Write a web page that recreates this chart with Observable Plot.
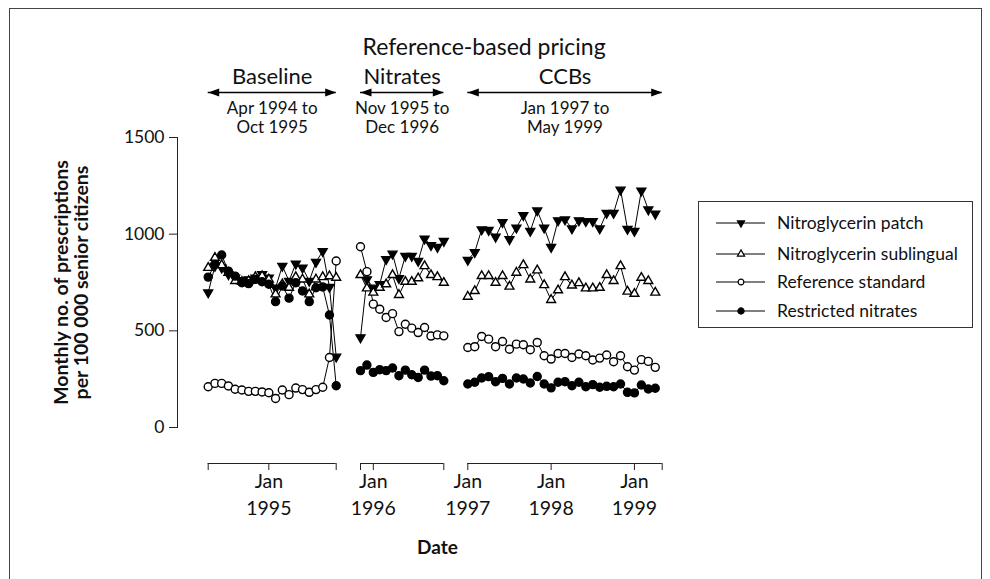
<!DOCTYPE html>
<html><head><meta charset="utf-8">
<script src="https://cdn.jsdelivr.net/npm/d3@7"></script>
<script src="https://cdn.jsdelivr.net/npm/@observablehq/plot@0.6"></script>
<style>
body{margin:0;background:#fff;font-family:Lato,sans-serif}
#wrap{position:relative;width:990px;height:579px;overflow:hidden;background:#fff}
#border{position:absolute;left:9px;top:8px;width:971px;height:640px;border:1px solid #444;pointer-events:none}
</style></head><body><div id="wrap"></div>
<script>
// ---- data ----
const seriesNames = ["Nitroglycerin patch", "Nitroglycerin sublingual", "Reference standard", "Restricted nitrates"];
const periodNames = ["Baseline", "Nitrates", "CCBs"];
const periodRanges = ["Apr 1994 to\nOct 1995", "Nov 1995 to\nDec 1996", "Jan 1997 to\nMay 1999"];
const periodStartSlot = [0, 20, 34];
const periodEndSlot = [19, 33, 62];
const policyLabel = "Reference-based pricing";
const tickSlots = [9, 22, 34, 46, 58];
const tickLabels = ["Jan\n1995", "Jan\n1996", "Jan\n1997", "Jan\n1998", "Jan\n1999"];
const yTicks = [0, 500, 1000, 1500];

const baselinePatch      = [698, 835, 826, 792, 775, 761, 766, 775, 792, 775, 723, 835, 758, 847, 826, 758, 856, 912, 727, 366];
const baselineSublingual = [826, 878, 840, 800, 758, 754, 758, 778, 783, 766, 689, 741, 723, 778, 766, 689, 766, 778, 783, 775];
const baselineReference  = [211, 228, 228, 215, 198, 194, 187, 187, 184, 180, 150, 194, 170, 204, 196, 182, 196, 208, 362, 861];
const baselineRestricted = [778, 844, 892, 809, 783, 749, 744, 766, 754, 741, 651, 732, 669, 749, 706, 651, 723, 727, 582, 216];

const nitratesPatch      = [466, 766, 723, 741, 870, 899, 772, 887, 887, 861, 976, 943, 933, 964];
const nitratesSublingual = [789, 720, 698, 723, 741, 789, 686, 754, 754, 772, 835, 789, 778, 749];
const nitratesReference  = [935, 806, 638, 612, 569, 589, 496, 534, 514, 491, 517, 473, 479, 474];
const nitratesRestricted = [294, 323, 285, 299, 294, 308, 268, 297, 273, 259, 297, 266, 268, 242];

const ccbPatch      = [866, 907, 1024, 1021, 986, 1062, 973, 1033, 1098, 1016, 1122, 1033, 933, 1071, 1076, 1029, 1071, 1067, 1067, 1029, 1110, 1110, 1230, 1027, 1016, 1225, 1127, 1105];
const ccbSublingual = [677, 706, 784, 784, 749, 784, 729, 801, 840, 766, 813, 737, 660, 710, 778, 735, 747, 720, 720, 723, 789, 758, 835, 703, 692, 775, 758, 698];
const ccbReference  = [414, 418, 471, 457, 418, 445, 405, 431, 428, 402, 440, 371, 354, 383, 383, 362, 380, 371, 349, 359, 375, 340, 371, 314, 297, 351, 342, 311];
const ccbRestricted = [225, 234, 256, 263, 237, 254, 225, 256, 251, 230, 264, 225, 205, 234, 237, 216, 234, 211, 222, 208, 213, 211, 225, 182, 179, 220, 199, 203];

// ---- tables ----
const periodSeries = [
  [baselinePatch, baselineSublingual, baselineReference, baselineRestricted],
  [nitratesPatch, nitratesSublingual, nitratesReference, nitratesRestricted],
  [ccbPatch, ccbSublingual, ccbReference, ccbRestricted]
];
const rows = [];
periodSeries.forEach((list, p) => list.forEach((vals, s) => vals.forEach((v, i) => rows.push({
  period: periodNames[p], series: seriesNames[s], slot: periodStartSlot[p] + i, value: v
}))));
const periods = periodNames.map((name, i) => ({
  name, range: periodRanges[i], start: periodStartSlot[i], end: periodEndSlot[i],
  mid: (periodStartSlot[i] + periodEndSlot[i]) / 2
}));
const axisTicks = Array.from(new Set([...periodStartSlot, ...periodEndSlot, ...tickSlots])).sort((a, b) => a - b);
const tickLabelOf = new Map(tickSlots.map((s, i) => [s, tickLabels[i]]));

// ---- symbols ----
const S3 = Math.sqrt(3);
const triUp = {draw(ctx, size) { const y = Math.sqrt(size / (3 * S3)); ctx.moveTo(0, -2 * y); ctx.lineTo(S3 * y, y); ctx.lineTo(-S3 * y, y); ctx.closePath(); }};
const triDown = {draw(ctx, size) { const y = Math.sqrt(size / (3 * S3)); ctx.moveTo(0, 2 * y); ctx.lineTo(-S3 * y, -y); ctx.lineTo(S3 * y, -y); ctx.closePath(); }};
const headLeft = {draw(ctx) { ctx.moveTo(0, 0); ctx.lineTo(11, -4); ctx.lineTo(11, 4); ctx.closePath(); }};
const headRight = {draw(ctx) { ctx.moveTo(0, 0); ctx.lineTo(-11, -4); ctx.lineTo(-11, 4); ctx.closePath(); }};
const seriesStyle = [
  {symbol: triDown, fill: "black", r: 3.3},
  {symbol: triUp, fill: "white", r: 3.3},
  {symbol: "circle", fill: "white", r: 4},
  {symbol: "circle", fill: "black", r: 4}
];

const font = "Lato, 'Open Sans', sans-serif";
const chart = Plot.plot({
  width: 990, height: 579,
  marginLeft: 177, marginRight: 293, marginTop: 137, marginBottom: 152,
  style: {fontFamily: font, background: "transparent", color: "#111", overflow: "visible"},
  x: {type: "linear", domain: [0, 19, 20, 33, 34, 62], range: [207.7, 335.7, 360, 443.3, 467.3, 661.7]},
  y: {domain: [0, 1500]},
  marks: [
    Plot.frame({anchor: "left", stroke: "#222"}),
    Plot.axisY({ticks: yTicks, tickFormat: d => String(d), tickSize: 8, tickPadding: 5, fontSize: 17.5, label: null, stroke: "#222"}),
    Plot.ruleY(periods, {x1: "start", x2: "end", y: () => 0, dy: 36, stroke: "#222"}),
    Plot.axisX({ticks: axisTicks, tickFormat: d => tickLabelOf.get(d) ?? "", tickSize: 7, tickPadding: -2, dy: 36, fontSize: 19.5, lineHeight: 1.38, label: null, stroke: "#222"}),
    Plot.text(["Monthly no. of prescriptions\nper 100 000 senior citizens"], {frameAnchor: "left", text: d => d, rotate: -90, dx: -106, fontWeight: "bold", fontSize: 19.5, lineHeight: 1.05, lineAnchor: "middle", textAnchor: "middle"}),
    Plot.text(["Date"], {frameAnchor: "bottom", text: d => d, dy: 120, fontWeight: "bold", fontSize: 19, lineAnchor: "middle"}),
    // period annotations
    Plot.text([{slot: periodStartSlot[1]}], {x: "slot", text: () => policyLabel, frameAnchor: "top", dy: -90, dx: 2, textAnchor: "start", fontSize: 23, lineAnchor: "middle"}),
    Plot.text(periods, {x: "mid", text: "name", frameAnchor: "top", dy: -61, fontSize: 22, lineAnchor: "middle"}),
    Plot.ruleY(periods, {x1: "start", x2: "end", y: () => 1500, dy: -45, stroke: "black", strokeWidth: 1.3}),
    Plot.dot(periods, {x: "start", y: () => 1500, dy: -45, symbol: headLeft, fill: "black", stroke: null}),
    Plot.dot(periods, {x: "end", y: () => 1500, dy: -45, symbol: headRight, fill: "black", stroke: null}),
    Plot.text(periods, {x: "mid", text: "range", frameAnchor: "top", dy: -37, fontSize: 17, lineHeight: 1.12, lineAnchor: "top"}),
    // data
    Plot.line(rows, {x: "slot", y: "value", z: d => d.period + "|" + d.series, stroke: "black", strokeWidth: 1}),
    ...seriesNames.map((name, s) => Plot.dot(rows.filter(d => d.series === name), {
      x: "slot", y: "value", symbol: seriesStyle[s].symbol, r: seriesStyle[s].r,
      fill: seriesStyle[s].fill, stroke: "black", strokeWidth: 1.4
    }))
  ]
});
const wrap = document.getElementById("wrap");
chart.style.position = "absolute"; chart.style.left = "0px"; chart.style.top = "0px";
wrap.appendChild(chart);

// ---- legend ----
const legend = d3.select(wrap).append("svg")
  .attr("width", 276).attr("height", 128)
  .style("position", "absolute").style("left", "698px").style("top", "201px");
legend.append("rect").attr("x", 0.5).attr("y", 0.5).attr("width", 274).attr("height", 126)
  .attr("fill", "white").attr("stroke", "#333");
const rowY = [22, 53, 81, 110];
const legendSym = [
  {type: triDown, size: 22, fill: "black"},
  {type: triUp, size: 22, fill: "white"},
  {type: d3.symbolCircle, size: 26, fill: "white"},
  {type: d3.symbolCircle, size: 30, fill: "black"}
];
seriesNames.forEach((name, i) => {
  const g = legend.append("g").attr("transform", `translate(0,${rowY[i]})`);
  g.append("line").attr("x1", 18).attr("x2", 67).attr("stroke", "black").attr("stroke-width", 1);
  g.append("path").attr("transform", "translate(43,0)")
    .attr("d", d3.symbol(legendSym[i].type, legendSym[i].size)())
    .attr("fill", legendSym[i].fill).attr("stroke", "black").attr("stroke-width", 1.2);
  g.append("text").attr("x", 79).attr("dy", "0.35em").attr("font-family", font)
    .attr("font-size", 17.5).attr("fill", "#111").text(name);
});

const border = document.createElement("div");
border.id = "border";
wrap.appendChild(border);
</script></body></html>
